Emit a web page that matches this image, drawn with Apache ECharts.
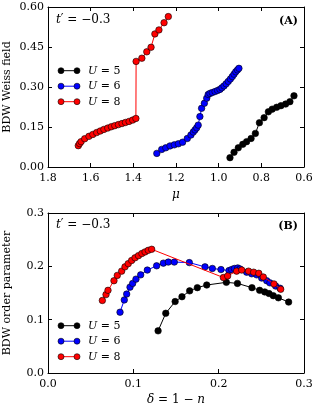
<!DOCTYPE html>
<html>
<head>
<meta charset="utf-8">
<script src="https://cdn.jsdelivr.net/npm/echarts@6/dist/echarts.min.js"></script>
<style>html,body{margin:0;padding:0;background:#fff}#c{width:315px;height:410px}</style>
</head>
<body>
<div id="c"></div>
<script>
// ---- Panel A: BDW Weiss field vs mu ----
var muU5 = [0.947,0.928,0.908,0.887,0.869,0.848,0.828,0.809,0.787,0.767,0.749,0.728,0.708,0.686,0.666,0.647];
var wfU5 = [0.035,0.055,0.072,0.085,0.095,0.107,0.126,0.166,0.185,0.207,0.217,0.224,0.230,0.236,0.245,0.267];
var muU6 = [1.290,1.267,1.248,1.228,1.208,1.189,1.169,1.147,1.130,1.119,1.111,1.103,1.096,1.088,1.080,1.067,1.056,1.049,1.041,1.030,1.017,1.005,0.994,0.985,0.975,0.965,0.955,0.945,0.936,0.928,0.920,0.912,0.905];
var wfU6 = [0.051,0.066,0.072,0.079,0.083,0.087,0.093,0.107,0.120,0.131,0.139,0.147,0.157,0.189,0.220,0.239,0.258,0.272,0.276,0.279,0.283,0.287,0.291,0.297,0.304,0.312,0.321,0.330,0.339,0.348,0.357,0.364,0.370];
var muU8 = [1.658,1.652,1.645,1.628,1.608,1.590,1.572,1.555,1.538,1.520,1.503,1.487,1.470,1.453,1.437,1.420,1.403,1.388,1.387,1.360,1.337,1.317,1.299,1.280,1.256,1.236];
var wfU8 = [0.080,0.088,0.095,0.106,0.115,0.122,0.129,0.135,0.141,0.146,0.151,0.155,0.159,0.163,0.167,0.171,0.176,0.182,0.396,0.408,0.432,0.449,0.499,0.514,0.541,0.564];
// ---- Panel B: BDW order parameter vs delta ----
var dU5 = [0.129,0.138,0.149,0.157,0.166,0.175,0.186,0.209,0.222,0.239,0.248,0.254,0.259,0.264,0.270,0.282];
var opU5 = [0.079,0.112,0.134,0.143,0.154,0.160,0.165,0.170,0.168,0.160,0.155,0.152,0.149,0.145,0.141,0.133];
var dU6 = [0.0844,0.0894,0.0922,0.0961,0.0992,0.1031,0.1086,0.1164,0.1273,0.1352,0.1410,0.1480,0.1656,0.1840,0.1926,0.2027,0.2121,0.2152,0.2184,0.2223,0.2250,0.2328,0.2387,0.2446,0.2504,0.2563,0.2600,0.2668,0.2719];
var opU6 = [0.114,0.137,0.148,0.161,0.168,0.176,0.184,0.193,0.201,0.206,0.208,0.208,0.207,0.199,0.196,0.194,0.192,0.194,0.196,0.197,0.195,0.189,0.186,0.184,0.178,0.173,0.169,0.163,0.159];
var dU8 = [0.0637,0.068,0.0703,0.0773,0.0812,0.0863,0.0902,0.094,0.098,0.102,0.1060,0.1100,0.1137,0.1175,0.1215,0.2055,0.2105,0.221,0.227,0.235,0.241,0.247,0.2523,0.2648,0.2727];
var opU8 = [0.136,0.147,0.155,0.173,0.183,0.191,0.199,0.205,0.211,0.216,0.220,0.224,0.227,0.230,0.232,0.179,0.182,0.191,0.193,0.191,0.189,0.187,0.180,0.167,0.157];

var seriesNames = ['U = 5','U = 6','U = 8'];
var seriesColors = ['#000000','#0000ff','#ff0000'];
var xTicksA = ['1.8','1.6','1.4','1.2','1.0','0.8','0.6'];
var yTicksA = ['0.00','0.15','0.30','0.45','0.60'];
var xTicksB = ['0.0','0.1','0.2','0.3'];
var yTicksB = ['0.0','0.1','0.2','0.3'];

var FONT = 'DejaVu Serif';
function zip(a,b){return a.map(function(v,i){return [v,b[i]];});}

function mkX(grid, pos, min, max, interval, fmt, showLabel, name) {
  return {
    type:'value', gridIndex:grid, position:pos, min:min, max:max, interval:interval,
    inverse: grid===0,
    splitLine:{show:false},
    axisLine:{show:true, onZero:false, lineStyle:{color:'#000', width:1}},
    axisTick:{show:true, inside:true, length:4, lineStyle:{color:'#000', width:1}},
    axisLabel:{show:showLabel, margin:6, color:'#000', fontFamily:FONT, fontSize:11, formatter:function(v){return fmt(v);}},
    name: name ? name.text : '', nameLocation:'middle', nameGap: name ? name.gap : 0,
    nameMoveOverlap:false,
    nameTextStyle: name ? name.style : {}
  };
}
function mkY(grid, pos, min, max, interval, fmt, showLabel, name) {
  return {
    type:'value', gridIndex:grid, position:pos, min:min, max:max, interval:interval,
    splitLine:{show:false},
    axisLine:{show:true, onZero:false, lineStyle:{color:'#000', width:1}},
    axisTick:{show:true, inside:true, length:4, lineStyle:{color:'#000', width:1}},
    axisLabel:{show:showLabel, margin:4, color:'#000', fontFamily:FONT, fontSize:11, formatter:function(v){return fmt(v);}},
    name: name || '', nameLocation:'middle', nameGap:35, nameRotate:90,
    nameMoveOverlap:false,
    nameTextStyle:{color:'#000', fontFamily:FONT, fontSize:11}
  };
}
function fmtA_x(v){ var i = Math.round((1.8 - v)/0.2); return xTicksA[i] !== undefined ? xTicksA[i] : v.toFixed(1); }
function fmtA_y(v){ var i = Math.round(v/0.15); return yTicksA[i]; }
function fmtB_x(v){ var i = Math.round(v/0.1); return xTicksB[i]; }
function fmtB_y(v){ var i = Math.round(v/0.1); return yTicksB[i]; }

var itStyle = {fontFamily:FONT, fontSize:12, color:'#000', fontStyle:'italic'};

function mkSeries(name, color, x, y, xi, yi, z) {
  return {
    name:name, type:'line', xAxisIndex:xi, yAxisIndex:yi, data:zip(x,y),
    symbol:'circle', symbolSize:6.5, showSymbol:true, z:z,
    lineStyle:{color:color, width:1},
    itemStyle:{color:color, borderColor:'#000', borderWidth:0.6},
    emphasis:{disabled:true}, animation:false
  };
}

function legendGraphics(top) {
  var g = [];
  for (var i=0;i<3;i++){
    var cy = top + i*15.5;
    g.push({type:'line', shape:{x1:61,y1:cy,x2:77,y2:cy}, style:{stroke:seriesColors[i], lineWidth:1}});
    g.push({type:'circle', shape:{cx:61,cy:cy,r:3}, style:{fill:seriesColors[i], stroke:'#000', lineWidth:0.6}});
    g.push({type:'circle', shape:{cx:77,cy:cy,r:3}, style:{fill:seriesColors[i], stroke:'#000', lineWidth:0.6}});
    g.push({type:'text', x:88, y:cy, style:{
      text:'{i|U} = ' + seriesNames[i].split('= ')[1], verticalAlign:'middle', align:'left',
      textVerticalAlign:'middle', textAlign:'left',
      fontFamily:FONT, fontSize:11, fill:'#000',
      rich:{i:{fontFamily:FONT, fontSize:11, fontStyle:'italic', fill:'#000'}}
    }});
  }
  return g;
}
function tprime(y) {
  return {type:'text', x:56, y:y, style:{text:"{i|t}′ = −0.3", align:'left', verticalAlign:'middle', textAlign:'left', textVerticalAlign:'middle', fontFamily:FONT, fontSize:12, fill:'#000', rich:{i:{fontFamily:FONT, fontSize:12, fontStyle:'italic', fill:'#000'}}}};
}

var graphics = [].concat(
  legendGraphics(70.7),
  legendGraphics(325.7),
  [
    tprime(19.5), tprime(225),
    {type:'text', x:298, y:21, style:{text:'(A)', align:'right', verticalAlign:'middle', textAlign:'right', textVerticalAlign:'middle', fontFamily:FONT, fontSize:11, fontWeight:'bold', fill:'#000'}},
    {type:'text', x:298, y:226, style:{text:'(B)', align:'right', verticalAlign:'middle', textAlign:'right', textVerticalAlign:'middle', fontFamily:FONT, fontSize:11, fontWeight:'bold', fill:'#000'}}
  ]
);

var chart = echarts.init(document.getElementById('c'), null, {renderer:'canvas'});
chart.setOption({
  animation:false,
  backgroundColor:'#fff',
  grid:[
    {left:48, top:7, width:256, height:160, containLabel:false, outerBoundsMode:'none'},
    {left:48, top:213, width:256, height:160, containLabel:false, outerBoundsMode:'none'}
  ],
  xAxis:[
    mkX(0,'bottom',0.6,1.8,0.2,fmtA_x,true,{text:'{i|μ}', gap:22, style:{color:'#000', fontFamily:FONT, fontSize:12, rich:{i:itStyle}}}),
    mkX(0,'top',0.6,1.8,0.2,fmtA_x,false,null),
    mkX(1,'bottom',0,0.3,0.1,fmtB_x,true,{text:'{i|δ} = 1 − {i|n}', gap:21, style:{color:'#000', fontFamily:FONT, fontSize:12, rich:{i:itStyle}}}),
    mkX(1,'top',0,0.3,0.1,fmtB_x,false,null)
  ],
  yAxis:[
    mkY(0,'left',0,0.6,0.15,fmtA_y,true,'BDW Weiss field'),
    mkY(0,'right',0,0.6,0.15,fmtA_y,false,''),
    mkY(1,'left',0,0.3,0.1,fmtB_y,true,'BDW order parameter'),
    mkY(1,'right',0,0.3,0.1,fmtB_y,false,'')
  ],
  series:[
    mkSeries(seriesNames[0], seriesColors[0], muU5, wfU5, 0, 0, 2),
    mkSeries(seriesNames[1], seriesColors[1], muU6, wfU6, 0, 0, 3),
    mkSeries(seriesNames[2], seriesColors[2], muU8, wfU8, 0, 0, 4),
    mkSeries(seriesNames[0], seriesColors[0], dU5, opU5, 2, 2, 2),
    mkSeries(seriesNames[1], seriesColors[1], dU6, opU6, 2, 2, 3),
    mkSeries(seriesNames[2], seriesColors[2], dU8, opU8, 2, 2, 4)
  ],
  graphic: graphics
});
</script>
</body>
</html>
